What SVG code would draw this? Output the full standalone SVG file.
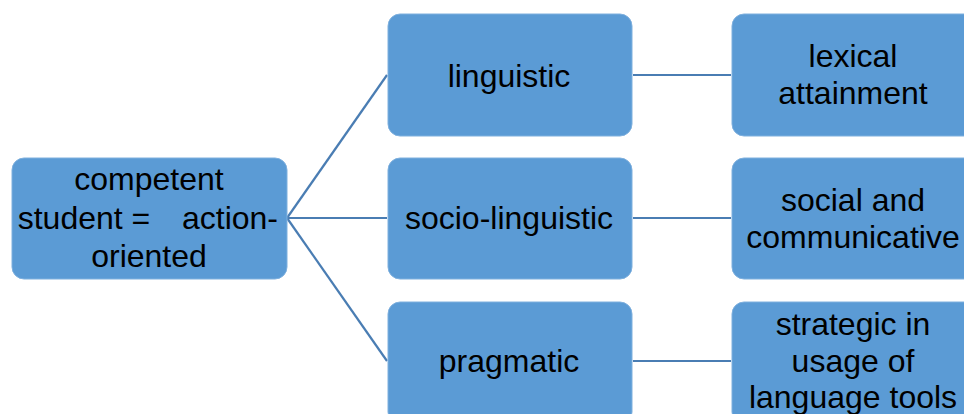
<svg xmlns="http://www.w3.org/2000/svg" width="964" height="414" viewBox="0 0 964 414">
<style>
.box{fill:#5b9bd5;stroke:#7fb0de;stroke-width:1}
.t{font-family:"Liberation Sans",Arial,sans-serif;font-size:32px;fill:#000;text-anchor:middle}
.c{stroke:#4a7db3;stroke-width:2.2;fill:none}
</style>
<rect width="964" height="414" fill="#fff"/>
<g id="connectors">
<line class="c" x1="287" y1="218" x2="387" y2="75"/>
<line class="c" x1="287" y1="218" x2="387" y2="218"/>
<line class="c" x1="287" y1="218" x2="387" y2="361"/>
<line class="c" x1="633" y1="75" x2="731" y2="75"/>
<line class="c" x1="633" y1="218" x2="731" y2="218"/>
<line class="c" x1="633" y1="361" x2="731" y2="361"/>
</g>
<g id="root">
<rect class="box" x="12" y="158" width="275" height="121" rx="12"/>
<text class="t" x="149" y="190">competent</text>
<text class="t" x="84" y="229">student =</text>
<text class="t" x="230" y="229">action-</text>
<text class="t" x="149" y="267">oriented</text>
</g>
<g id="linguistic">
<rect class="box" x="388" y="14" width="244" height="122" rx="12"/>
<text class="t" x="509" y="87">linguistic</text>
</g>
<g id="socio-linguistic">
<rect class="box" x="388" y="158" width="244" height="121" rx="12"/>
<text class="t" x="509" y="229">socio-linguistic</text>
</g>
<g id="pragmatic">
<rect class="box" x="388" y="302" width="244" height="122" rx="12"/>
<text class="t" x="509" y="372">pragmatic</text>
</g>
<g id="lexical">
<rect class="box" x="732" y="14" width="244" height="122" rx="12"/>
<text class="t" x="853" y="67">lexical</text>
<text class="t" x="853" y="104">attainment</text>
</g>
<g id="social">
<rect class="box" x="732" y="158" width="244" height="121" rx="12"/>
<text class="t" x="853" y="211">social and</text>
<text class="t" x="853" y="248">communicative</text>
</g>
<g id="strategic">
<rect class="box" x="732" y="302" width="244" height="122" rx="12"/>
<text class="t" x="853" y="335">strategic in</text>
<text class="t" x="853" y="372">usage of</text>
<text class="t" x="853" y="408">language tools</text>
</g>
</svg>
